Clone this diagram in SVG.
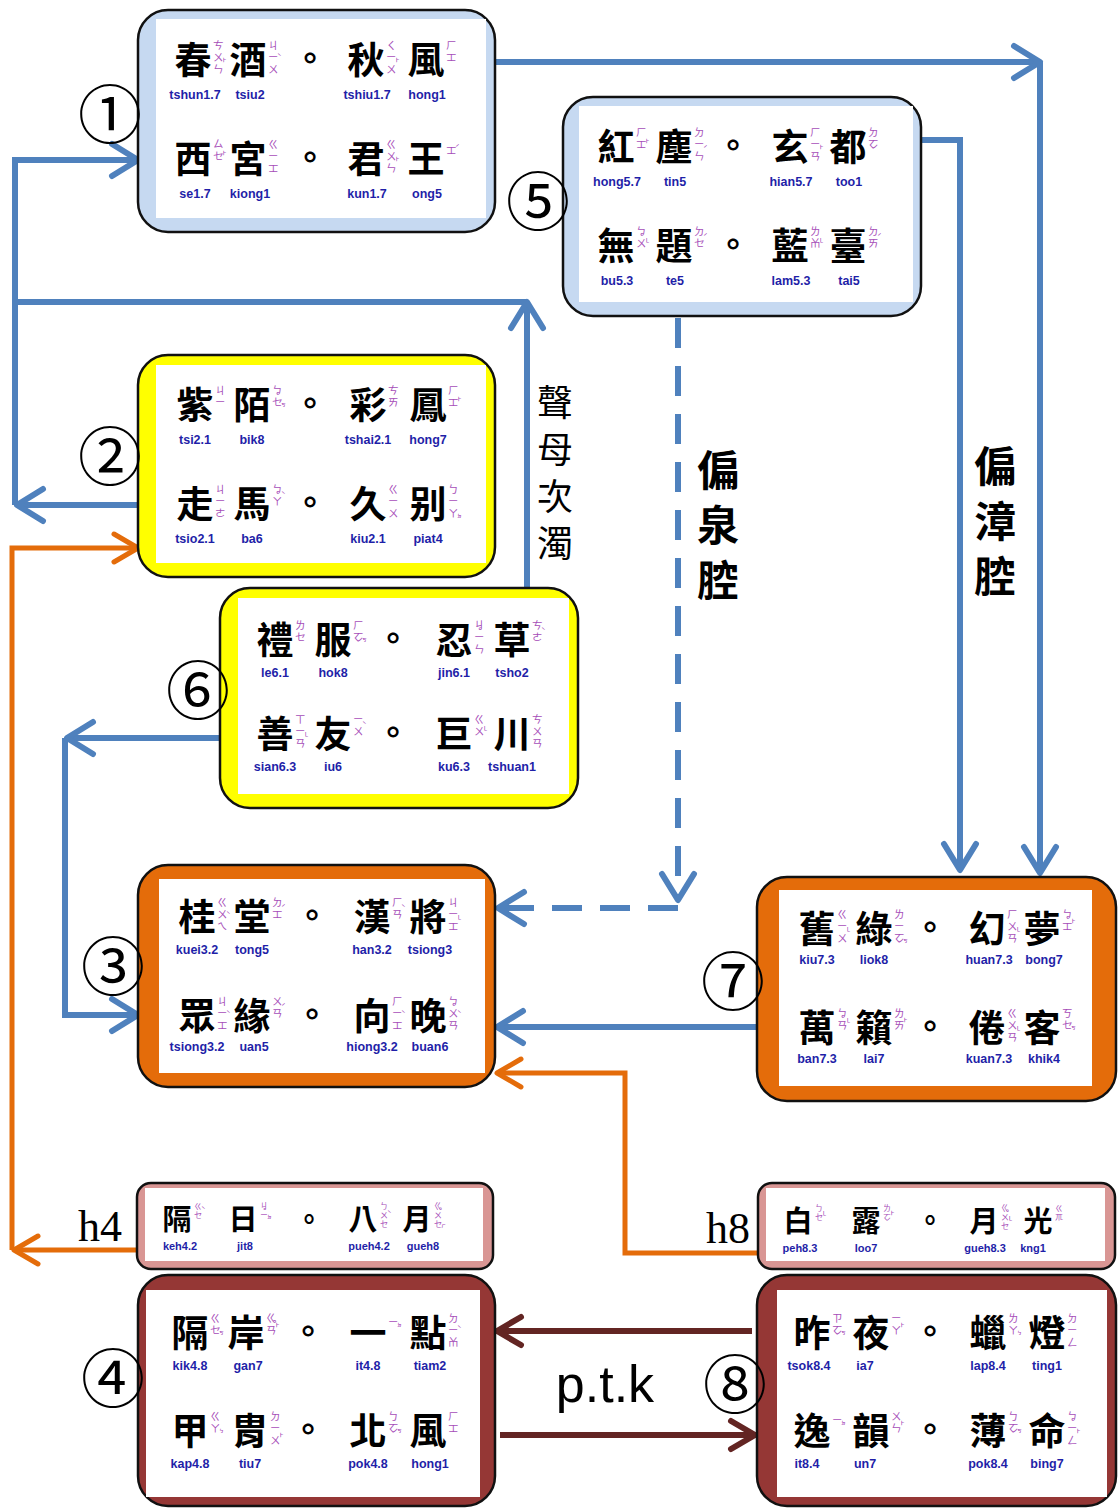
<svg xmlns="http://www.w3.org/2000/svg" width="1120" height="1508" viewBox="0 0 1120 1508">
<style>
.o{stroke:#111;stroke-width:2.5}
.i{fill:#fff}
.ch{font-family:"Noto Sans CJK TC","Noto Sans CJK JP",sans-serif;font-size:37px;font-weight:700;text-anchor:middle;fill:#000}
.hc{font-size:29px}
.ro{font-family:"Liberation Sans",Arial,sans-serif;font-weight:700;font-size:12.5px;text-anchor:middle;fill:#1f1fa8}
.hr{font-size:11px}
.bp{font-family:"Noto Sans CJK TC","DejaVu Sans",sans-serif;font-size:10.5px;fill:#a64db8}
.tn{font-size:8px}
.hb{font-size:8px}
.dt{font-family:"Noto Sans CJK TC",sans-serif;font-size:34px;font-weight:700;text-anchor:middle;fill:#000}
.hd{font-size:28px}
.num{font-family:"Noto Sans CJK JP","DejaVu Sans",sans-serif;font-size:64px;text-anchor:middle;fill:#000}
.lab{font-family:"Noto Sans CJK TC",sans-serif;text-anchor:middle;fill:#000}
.c{fill:none}
.bl{stroke:#4f81bd;stroke-width:6}
.or{stroke:#e46c0a;stroke-width:5}
.rd{stroke:#632523;stroke-width:6}
</style>
<defs>
<marker id="mb" viewBox="-32 -20 36 40" refX="0" refY="0" markerWidth="36" markerHeight="40" markerUnits="userSpaceOnUse" orient="auto"><path d="M-26,-16 L0,0 L-26,16" fill="none" stroke="#4f81bd" stroke-width="6" stroke-linecap="round" stroke-linejoin="round"/></marker>
<marker id="mo" viewBox="-32 -20 36 40" refX="0" refY="0" markerWidth="36" markerHeight="40" markerUnits="userSpaceOnUse" orient="auto"><path d="M-24,-14 L0,0 L-24,14" fill="none" stroke="#e46c0a" stroke-width="5" stroke-linecap="round" stroke-linejoin="round"/></marker>
<marker id="mr" viewBox="-32 -20 36 40" refX="0" refY="0" markerWidth="36" markerHeight="40" markerUnits="userSpaceOnUse" orient="auto"><path d="M-24,-14 L0,0 L-24,14" fill="none" stroke="#632523" stroke-width="6" stroke-linecap="round" stroke-linejoin="round"/></marker>
</defs>
<rect width="1120" height="1508" fill="#fff"/>

<g id="connectors">
<path class="c bl" d="M495,62 H1040" marker-end="url(#mb)"/>
<path class="c bl" d="M1040,62 V873" marker-end="url(#mb)"/>
<path class="c bl" d="M920,140 H960 V870" marker-end="url(#mb)"/>
<path class="c bl" d="M678,318 V900" stroke-dasharray="30 18" marker-end="url(#mb)"/>
<path class="c bl" d="M678,908 H498" stroke-dasharray="30 18" marker-end="url(#mb)"/>
<path class="c bl" d="M527,588 V302" marker-end="url(#mb)"/>
<path class="c bl" d="M527,302 H15"/>
<path class="c bl" d="M15,505 V160 H138" marker-end="url(#mb)"/>
<path class="c bl" d="M138,505 H17" marker-end="url(#mb)"/>
<path class="c bl" d="M220,738 H67" marker-end="url(#mb)"/>
<path class="c bl" d="M65,738 V1015 H138" marker-end="url(#mb)"/>
<path class="c bl" d="M757,1027 H497" marker-end="url(#mb)"/>
<path class="c or" d="M137,1250 H14" marker-end="url(#mo)"/>
<path class="c or" d="M12,1250 V548 H138" marker-end="url(#mo)"/>
<path class="c or" d="M758,1253 H625 V1073 H497" marker-end="url(#mo)"/>
<path class="c rd" d="M752,1331 H497" marker-end="url(#mr)"/>
<path class="c rd" d="M500,1435 H755" marker-end="url(#mr)"/>
</g>

<g id="labels">
<text class="lab" x="555" y="416" font-size="36">聲<tspan x="555" y="463">母</tspan><tspan x="555" y="510">次</tspan><tspan x="555" y="557">濁</tspan></text>
<text class="lab" x="718" y="486" font-size="42" font-weight="700">偏<tspan x="718" y="541">泉</tspan><tspan x="718" y="596">腔</tspan></text>
<text class="lab" x="995" y="482" font-size="42" font-weight="700">偏<tspan x="995" y="537">漳</tspan><tspan x="995" y="592">腔</tspan></text>
<text x="78" y="1241" font-family="Liberation Serif,serif" font-size="44">h4</text>
<text x="706" y="1243" font-family="Liberation Serif,serif" font-size="44">h8</text>
<text x="605" y="1402" font-family="Liberation Sans,Arial,sans-serif" font-size="52" text-anchor="middle">p.t.k</text>
</g>

<g id="node1" transform="translate(138,10)">
<rect class="o" width="357" height="222" rx="30" fill="#c6d9f1"/>
<rect class="i" x="18" y="9" width="330" height="199"/>
<g>
<text class="ch" x="55" y="64">春</text><text class="ch" x="110" y="64">酒</text><text class="dt" x="172" y="61">。</text><text class="ch" x="228" y="64">秋</text><text class="ch" x="288" y="64">風</text>
<text class="ro" x="57" y="89">tshun1.7</text><text class="ro" x="112" y="89">tsiu2</text><text class="ro" x="229" y="89">tshiu1.7</text><text class="ro" x="289" y="89">hong1</text>
<text class="bp" x="75" y="39">ㄘ<tspan x="75" y="51">ㄨ</tspan><tspan x="75" y="63">ㄣ</tspan><tspan class="tn" x="84" y="55">˫</tspan></text>
<text class="bp" x="130" y="39">ㄐ<tspan x="130" y="51">ㄧ</tspan><tspan x="130" y="63">ㄨ</tspan><tspan class="tn" x="139" y="50">ˋ</tspan></text>
<text class="bp" x="248" y="39">ㄑ<tspan x="248" y="51">ㄧ</tspan><tspan x="248" y="63">ㄨ</tspan><tspan class="tn" x="257" y="55">˫</tspan></text>
<text class="bp" x="308" y="39">ㄏ<tspan x="308" y="51">ㆲ</tspan></text>
</g>
<g transform="translate(0,99)">
<text class="ch" x="55" y="64">西</text><text class="ch" x="110" y="64">宮</text><text class="dt" x="172" y="61">。</text><text class="ch" x="228" y="64">君</text><text class="ch" x="288" y="64">王</text>
<text class="ro" x="57" y="89">se1.7</text><text class="ro" x="112" y="89">kiong1</text><text class="ro" x="229" y="89">kun1.7</text><text class="ro" x="289" y="89">ong5</text>
<text class="bp" x="75" y="39">ㄙ<tspan x="75" y="51">ㆤ</tspan><tspan class="tn" x="84" y="49">˫</tspan></text>
<text class="bp" x="130" y="39">ㄍ<tspan x="130" y="51">ㄧ</tspan><tspan x="130" y="63">ㆲ</tspan></text>
<text class="bp" x="248" y="39">ㄍ<tspan x="248" y="51">ㄨ</tspan><tspan x="248" y="63">ㄣ</tspan><tspan class="tn" x="257" y="55">˫</tspan></text>
<text class="bp" x="308" y="45">ㆲ<tspan class="tn" x="317" y="42">ˊ</tspan></text>
</g>
<text class="num" x="-28" y="128">①</text>
</g>

<g id="node5" transform="translate(563,97)">
<rect class="o" width="358" height="219" rx="30" fill="#c6d9f1"/>
<rect class="i" x="16" y="9" width="334" height="196"/>
<g>
<text class="ch" x="53" y="64">紅</text><text class="ch" x="111" y="64">塵</text><text class="dt" x="170" y="61">。</text><text class="ch" x="227" y="64">玄</text><text class="ch" x="285" y="64">都</text>
<text class="ro" x="54" y="89">hong5.7</text><text class="ro" x="112" y="89">tin5</text><text class="ro" x="228" y="89">hian5.7</text><text class="ro" x="286" y="89">too1</text>
<text class="bp" x="73" y="39">ㄏ<tspan x="73" y="51">ㆲ</tspan><tspan class="tn" x="82" y="49">˫</tspan></text>
<text class="bp" x="131" y="39">ㄉ<tspan x="131" y="51">ㄧ</tspan><tspan x="131" y="63">ㄣ</tspan><tspan class="tn" x="140" y="55">ˊ</tspan></text>
<text class="bp" x="247" y="39">ㄏ<tspan x="247" y="51">ㄧ</tspan><tspan x="247" y="63">ㄢ</tspan><tspan class="tn" x="256" y="55">˫</tspan></text>
<text class="bp" x="305" y="39">ㄉ<tspan x="305" y="51">ㆦ</tspan></text>
</g>
<g transform="translate(0,99)">
<text class="ch" x="53" y="64">無</text><text class="ch" x="111" y="64">題</text><text class="dt" x="170" y="61">。</text><text class="ch" x="227" y="64">藍</text><text class="ch" x="285" y="64">臺</text>
<text class="ro" x="54" y="89">bu5.3</text><text class="ro" x="112" y="89">te5</text><text class="ro" x="228" y="89">lam5.3</text><text class="ro" x="286" y="89">tai5</text>
<text class="bp" x="73" y="39">ㆠ<tspan x="73" y="51">ㄨ</tspan><tspan class="tn" x="82" y="49">˪</tspan></text>
<text class="bp" x="131" y="39">ㄉ<tspan x="131" y="51">ㆤ</tspan><tspan class="tn" x="140" y="44">ˊ</tspan></text>
<text class="bp" x="247" y="39">ㄌ<tspan x="247" y="51">ㆰ</tspan><tspan class="tn" x="256" y="49">˪</tspan></text>
<text class="bp" x="305" y="39">ㄉ<tspan x="305" y="51">ㄞ</tspan><tspan class="tn" x="314" y="44">ˊ</tspan></text>
</g>
<text class="num" x="-25" y="128">⑤</text>
</g>

<g id="node2" transform="translate(138,355)">
<rect class="o" width="357" height="222" rx="30" fill="#ffff00"/>
<rect class="i" x="18" y="10" width="330" height="198"/>
<g>
<text class="ch" x="57" y="64">紫</text><text class="ch" x="114" y="64">陌</text><text class="dt" x="172" y="61">。</text><text class="ch" x="230" y="64">彩</text><text class="ch" x="290" y="64">鳳</text>
<text class="ro" x="57" y="89">tsi2.1</text><text class="ro" x="114" y="89">bik8</text><text class="ro" x="230" y="89">tshai2.1</text><text class="ro" x="290" y="89">hong7</text>
<text class="bp" x="77" y="39">ㄐ<tspan x="77" y="51">ㄧ</tspan></text>
<text class="bp" x="134" y="39">ㆠ<tspan x="134" y="51">ㆤ</tspan><tspan class="tn" x="143" y="51">ㆶ</tspan></text>
<text class="bp" x="250" y="39">ㄘ<tspan x="250" y="51">ㄞ</tspan></text>
<text class="bp" x="310" y="39">ㄏ<tspan x="310" y="51">ㆲ</tspan><tspan class="tn" x="319" y="49">˫</tspan></text>
</g>
<g transform="translate(0,99)">
<text class="ch" x="57" y="64">走</text><text class="ch" x="114" y="64">馬</text><text class="dt" x="172" y="61">。</text><text class="ch" x="230" y="64">久</text><text class="ch" x="290" y="64">别</text>
<text class="ro" x="57" y="89">tsio2.1</text><text class="ro" x="114" y="89">ba6</text><text class="ro" x="230" y="89">kiu2.1</text><text class="ro" x="290" y="89">piat4</text>
<text class="bp" x="77" y="39">ㄐ<tspan x="77" y="51">ㄧ</tspan><tspan x="77" y="63">ㄜ</tspan></text>
<text class="bp" x="134" y="39">ㆠ<tspan x="134" y="51">ㄚ</tspan><tspan class="tn" x="143" y="44">ˋ</tspan></text>
<text class="bp" x="250" y="39">ㄍ<tspan x="250" y="51">ㄧ</tspan><tspan x="250" y="63">ㄨ</tspan></text>
<text class="bp" x="310" y="39">ㄅ<tspan x="310" y="51">ㄧ</tspan><tspan x="310" y="63">ㄚ</tspan><tspan class="tn" x="319" y="63">ㆵ</tspan></text>
</g>
<text class="num" x="-28" y="125">②</text>
</g>

<g id="node6" transform="translate(220,588)">
<rect class="o" width="358" height="220" rx="30" fill="#ffff00"/>
<rect class="i" x="18" y="10" width="331" height="196"/>
<g>
<text class="ch" x="55" y="66">禮</text><text class="ch" x="113" y="66">服</text><text class="dt" x="173" y="63">。</text><text class="ch" x="234" y="66">忍</text><text class="ch" x="292" y="66">草</text>
<text class="ro" x="55" y="89">le6.1</text><text class="ro" x="113" y="89">hok8</text><text class="ro" x="234" y="89">jin6.1</text><text class="ro" x="292" y="89">tsho2</text>
<text class="bp" x="75" y="41">ㄌ<tspan x="75" y="53">ㆤ</tspan></text>
<text class="bp" x="133" y="41">ㄏ<tspan x="133" y="53">ㆦ</tspan><tspan class="tn" x="142" y="53">ㆶ</tspan></text>
<text class="bp" x="254" y="41">ㆢ<tspan x="254" y="53">ㄧ</tspan><tspan x="254" y="65">ㄣ</tspan></text>
<text class="bp" x="312" y="41">ㄘ<tspan x="312" y="53">ㄜ</tspan><tspan class="tn" x="321" y="46">ˋ</tspan></text>
</g>
<g transform="translate(0,94)">
<text class="ch" x="55" y="66">善</text><text class="ch" x="113" y="66">友</text><text class="dt" x="173" y="63">。</text><text class="ch" x="234" y="66">巨</text><text class="ch" x="292" y="66">川</text>
<text class="ro" x="55" y="89">sian6.3</text><text class="ro" x="113" y="89">iu6</text><text class="ro" x="234" y="89">ku6.3</text><text class="ro" x="292" y="89">tshuan1</text>
<text class="bp" x="75" y="41">ㄒ<tspan x="75" y="53">ㄧ</tspan><tspan x="75" y="65">ㄢ</tspan><tspan class="tn" x="84" y="57">˪</tspan></text>
<text class="bp" x="133" y="41">ㄧ<tspan x="133" y="53">ㄨ</tspan><tspan class="tn" x="142" y="46">ˋ</tspan></text>
<text class="bp" x="254" y="41">ㄍ<tspan x="254" y="53">ㄨ</tspan><tspan class="tn" x="263" y="51">˪</tspan></text>
<text class="bp" x="312" y="41">ㄘ<tspan x="312" y="53">ㄨ</tspan><tspan x="312" y="65">ㄢ</tspan></text>
</g>
<text class="num" x="-22" y="126">⑥</text>
</g>

<g id="node3" transform="translate(138,865)">
<rect class="o" width="357" height="222" rx="30" fill="#e46c0a"/>
<rect class="i" x="21" y="14" width="326" height="194"/>
<g>
<text class="ch" x="59" y="66">桂</text><text class="ch" x="114" y="66">堂</text><text class="dt" x="174" y="63">。</text><text class="ch" x="234" y="66">漢</text><text class="ch" x="290" y="66">將</text>
<text class="ro" x="59" y="89">kuei3.2</text><text class="ro" x="114" y="89">tong5</text><text class="ro" x="234" y="89">han3.2</text><text class="ro" x="292" y="89">tsiong3</text>
<text class="bp" x="79" y="41">ㄍ<tspan x="79" y="53">ㄨ</tspan><tspan x="79" y="65">ㄟ</tspan><tspan class="tn" x="88" y="53">ˋ</tspan></text>
<text class="bp" x="134" y="41">ㄉ<tspan x="134" y="53">ㆲ</tspan><tspan class="tn" x="143" y="46">ˊ</tspan></text>
<text class="bp" x="254" y="41">ㄏ<tspan x="254" y="53">ㄢ</tspan><tspan class="tn" x="263" y="46">ˋ</tspan></text>
<text class="bp" x="310" y="41">ㄐ<tspan x="310" y="53">ㄧ</tspan><tspan x="310" y="65">ㆲ</tspan><tspan class="tn" x="319" y="57">˪</tspan></text>
</g>
<g transform="translate(0,99)">
<text class="ch" x="59" y="66">眾</text><text class="ch" x="114" y="66">緣</text><text class="dt" x="174" y="63">。</text><text class="ch" x="234" y="66">向</text><text class="ch" x="290" y="66">晚</text>
<text class="ro" x="59" y="87">tsiong3.2</text><text class="ro" x="116" y="87">uan5</text><text class="ro" x="234" y="87">hiong3.2</text><text class="ro" x="292" y="87">buan6</text>
<text class="bp" x="79" y="41">ㄐ<tspan x="79" y="53">ㄧ</tspan><tspan x="79" y="65">ㆲ</tspan><tspan class="tn" x="88" y="53">ˋ</tspan></text>
<text class="bp" x="134" y="41">ㄨ<tspan x="134" y="53">ㄢ</tspan><tspan class="tn" x="143" y="46">ˊ</tspan></text>
<text class="bp" x="254" y="41">ㄏ<tspan x="254" y="53">ㄧ</tspan><tspan x="254" y="65">ㆲ</tspan><tspan class="tn" x="263" y="53">ˋ</tspan></text>
<text class="bp" x="310" y="41">ㆠ<tspan x="310" y="53">ㄨ</tspan><tspan x="310" y="65">ㄢ</tspan><tspan class="tn" x="319" y="53">ˋ</tspan></text>
</g>
<text class="num" x="-25" y="125">③</text>
</g>

<g id="node7" transform="translate(757,877)">
<rect class="o" width="359" height="224" rx="30" fill="#e46c0a"/>
<rect class="i" x="22" y="13" width="313" height="196"/>
<g>
<text class="ch" x="60" y="66">舊</text><text class="ch" x="117" y="66">綠</text><text class="dt" x="173" y="63">。</text><text class="ch" x="230" y="66">幻</text><text class="ch" x="285" y="66">夢</text>
<text class="ro" x="60" y="87">kiu7.3</text><text class="ro" x="117" y="87">liok8</text><text class="ro" x="232" y="87">huan7.3</text><text class="ro" x="287" y="87">bong7</text>
<text class="bp" x="80" y="41">ㄍ<tspan x="80" y="53">ㄧ</tspan><tspan x="80" y="65">ㄨ</tspan><tspan class="tn" x="89" y="57">˪</tspan></text>
<text class="bp" x="137" y="41">ㄌ<tspan x="137" y="53">ㄧ</tspan><tspan x="137" y="65">ㆦ</tspan><tspan class="tn" x="146" y="65">ㆶ</tspan></text>
<text class="bp" x="250" y="41">ㄏ<tspan x="250" y="53">ㄨ</tspan><tspan x="250" y="65">ㄢ</tspan><tspan class="tn" x="259" y="57">˪</tspan></text>
<text class="bp" x="305" y="41">ㆠ<tspan x="305" y="53">ㆲ</tspan><tspan class="tn" x="314" y="49">˫</tspan></text>
</g>
<g transform="translate(0,99)">
<text class="ch" x="60" y="66">萬</text><text class="ch" x="117" y="66">籟</text><text class="dt" x="173" y="63">。</text><text class="ch" x="230" y="66">倦</text><text class="ch" x="285" y="66">客</text>
<text class="ro" x="60" y="87">ban7.3</text><text class="ro" x="117" y="87">lai7</text><text class="ro" x="232" y="87">kuan7.3</text><text class="ro" x="287" y="87">khik4</text>
<text class="bp" x="80" y="41">ㆠ<tspan x="80" y="53">ㄢ</tspan><tspan class="tn" x="89" y="49">˪</tspan></text>
<text class="bp" x="137" y="41">ㄌ<tspan x="137" y="53">ㄞ</tspan><tspan class="tn" x="146" y="49">˫</tspan></text>
<text class="bp" x="250" y="41">ㄍ<tspan x="250" y="53">ㄨ</tspan><tspan x="250" y="65">ㄢ</tspan><tspan class="tn" x="259" y="57">˪</tspan></text>
<text class="bp" x="305" y="41">ㄎ<tspan x="305" y="53">ㆤ</tspan><tspan class="tn" x="314" y="53">ㆶ</tspan></text>
</g>
<text class="num" x="-24" y="128">⑦</text>
</g>

<g id="nodeh4" transform="translate(137,1183)">
<rect class="o" width="356" height="86" rx="14" fill="#d99694"/>
<rect class="i" x="8" y="5" width="338" height="73"/>
<text class="ch hc" x="40" y="47">隔</text><text class="ch hc" x="106" y="47">日</text><text class="dt hd" x="172" y="47">。</text><text class="ch hc" x="226" y="47">八</text><text class="ch hc" x="280" y="47">月</text>
<text class="ro hr" x="43" y="67">keh4.2</text><text class="ro hr" x="108" y="67">jit8</text><text class="ro hr" x="232" y="67">pueh4.2</text><text class="ro hr" x="286" y="67">gueh8</text>
<text class="bp hb" x="57" y="26">ㄍ<tspan x="57" y="35">ㆤ</tspan><tspan class="tn" x="64" y="30">ˋ</tspan></text>
<text class="bp hb" x="123" y="26">ㆢ<tspan x="123" y="35">ㄧ</tspan><tspan class="tn" x="130" y="35">ㆵ</tspan></text>
<text class="bp hb" x="243" y="26">ㄅ<tspan x="243" y="35">ㄨ</tspan><tspan x="243" y="44">ㆤ</tspan><tspan class="tn" x="250" y="34">ˋ</tspan></text>
<text class="bp hb" x="297" y="26">ㆣ<tspan x="297" y="35">ㄨ</tspan><tspan x="297" y="44">ㆤ</tspan><tspan class="tn" x="304" y="44">ㆷ</tspan></text>
</g>

<g id="nodeh8" transform="translate(758,1183)">
<rect class="o" width="357" height="86" rx="14" fill="#d99694"/>
<rect class="i" x="8" y="5" width="339" height="73"/>
<text class="ch hc" x="40" y="49">白</text><text class="ch hc" x="108" y="49">露</text><text class="dt hd" x="172" y="48">。</text><text class="ch hc" x="226" y="49">月</text><text class="ch hc" x="280" y="49">光</text>
<text class="ro hr" x="42" y="69">peh8.3</text><text class="ro hr" x="108" y="69">loo7</text><text class="ro hr" x="227" y="69">gueh8.3</text><text class="ro hr" x="275" y="69">kng1</text>
<text class="bp hb" x="57" y="28">ㄅ<tspan x="57" y="37">ㆤ</tspan><tspan class="tn" x="64" y="35">˪</tspan></text>
<text class="bp hb" x="125" y="28">ㄌ<tspan x="125" y="37">ㆦ</tspan><tspan class="tn" x="132" y="35">˫</tspan></text>
<text class="bp hb" x="243" y="28">ㆣ<tspan x="243" y="37">ㄨ</tspan><tspan x="243" y="46">ㆤ</tspan><tspan class="tn" x="250" y="40">˪</tspan></text>
<text class="bp hb" x="297" y="28">ㄍ<tspan x="297" y="37">ㆭ</tspan></text>
</g>

<g id="node4" transform="translate(138,1275)">
<rect class="o" width="357" height="231" rx="30" fill="#953735"/>
<rect class="i" x="8" y="15" width="334" height="207"/>
<g transform="translate(0,6)">
<text class="ch" x="52" y="66">隔</text><text class="ch" x="108" y="66">岸</text><text class="dt" x="170" y="63">。</text><text class="ch" x="230" y="66">一</text><text class="ch" x="290" y="66">點</text>
<text class="ro" x="52" y="89">kik4.8</text><text class="ro" x="110" y="89">gan7</text><text class="ro" x="230" y="89">it4.8</text><text class="ro" x="292" y="89">tiam2</text>
<text class="bp" x="72" y="41">ㄍ<tspan x="72" y="53">ㆤ</tspan><tspan class="tn" x="81" y="53">ㆶ</tspan></text>
<text class="bp" x="128" y="41">ㆣ<tspan x="128" y="53">ㄢ</tspan><tspan class="tn" x="137" y="49">˫</tspan></text>
<text class="bp" x="250" y="45">ㄧ<tspan class="tn" x="259" y="45">ㆵ</tspan></text>
<text class="bp" x="310" y="41">ㄉ<tspan x="310" y="53">ㄧ</tspan><tspan x="310" y="65">ㆰ</tspan><tspan class="tn" x="319" y="51">ˋ</tspan></text>
</g>
<g transform="translate(0,104)">
<text class="ch" x="52" y="66">甲</text><text class="ch" x="112" y="66">胄</text><text class="dt" x="170" y="63">。</text><text class="ch" x="230" y="66">北</text><text class="ch" x="290" y="66">風</text>
<text class="ro" x="52" y="89">kap4.8</text><text class="ro" x="112" y="89">tiu7</text><text class="ro" x="230" y="89">pok4.8</text><text class="ro" x="292" y="89">hong1</text>
<text class="bp" x="72" y="41">ㄍ<tspan x="72" y="53">ㄚ</tspan><tspan class="tn" x="81" y="53">ㆴ</tspan></text>
<text class="bp" x="132" y="41">ㄉ<tspan x="132" y="53">ㄧ</tspan><tspan x="132" y="65">ㄨ</tspan><tspan class="tn" x="141" y="61">˫</tspan></text>
<text class="bp" x="250" y="41">ㄅ<tspan x="250" y="53">ㆦ</tspan><tspan class="tn" x="259" y="53">ㆶ</tspan></text>
<text class="bp" x="310" y="41">ㄏ<tspan x="310" y="53">ㆲ</tspan></text>
</g>
<text class="num" x="-25" y="127">④</text>
</g>

<g id="node8" transform="translate(757,1275)">
<rect class="o" width="359" height="231" rx="30" fill="#953735"/>
<rect class="i" x="20" y="15" width="330" height="207"/>
<g transform="translate(0,6)">
<text class="ch" x="55" y="66">昨</text><text class="ch" x="114" y="66">夜</text><text class="dt" x="173" y="63">。</text><text class="ch" x="231" y="66">蠟</text><text class="ch" x="290" y="66">燈</text>
<text class="ro" x="52" y="89">tsok8.4</text><text class="ro" x="108" y="89">ia7</text><text class="ro" x="231" y="89">lap8.4</text><text class="ro" x="290" y="89">ting1</text>
<text class="bp" x="75" y="41">ㄗ<tspan x="75" y="53">ㆦ</tspan><tspan class="tn" x="84" y="53">ㆶ</tspan></text>
<text class="bp" x="134" y="41">ㄧ<tspan x="134" y="53">ㄚ</tspan><tspan class="tn" x="143" y="49">˫</tspan></text>
<text class="bp" x="251" y="41">ㄌ<tspan x="251" y="53">ㄚ</tspan><tspan class="tn" x="260" y="53">ㆴ</tspan></text>
<text class="bp" x="310" y="41">ㄉ<tspan x="310" y="53">ㄧ</tspan><tspan x="310" y="65">ㄥ</tspan></text>
</g>
<g transform="translate(0,104)">
<text class="ch" x="55" y="66">逸</text><text class="ch" x="114" y="66">韻</text><text class="dt" x="173" y="63">。</text><text class="ch" x="231" y="66">薄</text><text class="ch" x="290" y="66">命</text>
<text class="ro" x="50" y="89">it8.4</text><text class="ro" x="108" y="89">un7</text><text class="ro" x="231" y="89">pok8.4</text><text class="ro" x="290" y="89">bing7</text>
<text class="bp" x="75" y="45">ㄧ<tspan class="tn" x="84" y="45">ㆵ</tspan></text>
<text class="bp" x="134" y="41">ㄨ<tspan x="134" y="53">ㄣ</tspan><tspan class="tn" x="143" y="49">˫</tspan></text>
<text class="bp" x="251" y="41">ㄅ<tspan x="251" y="53">ㆦ</tspan><tspan class="tn" x="260" y="53">ㆶ</tspan></text>
<text class="bp" x="310" y="41">ㆠ<tspan x="310" y="53">ㄧ</tspan><tspan x="310" y="65">ㄥ</tspan><tspan class="tn" x="319" y="57">˫</tspan></text>
</g>
<text class="num" x="-22" y="133">⑧</text>
</g>
</svg>
